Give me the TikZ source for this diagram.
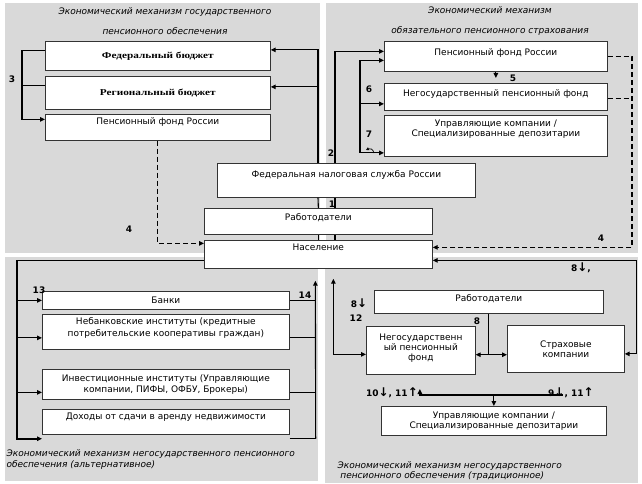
\documentclass[tikz,border=0pt]{standalone}
\usepackage{fontspec}
\setmainfont{DejaVu Sans}
\newfontfamily\budgetfont{Liberation Serif}[FakeStretch=1.25]
\usetikzlibrary{arrows.meta}
\definecolor{panelgray}{RGB}{217,217,217}
\newcommand\dnarr{{\fontsize{12}{9}\selectfont↓}}
\newcommand\uparr{{\fontsize{12}{9}\selectfont↑}}

\begin{document}
\begin{tikzpicture}[
  x=1pt, y=-1pt,
  font=\fontsize{9}{10.5}\selectfont,
  box/.style={draw=black!80, fill=white, line width=.7pt, align=center,
    inner sep=1pt, anchor=north west},
  raised/.style={text depth=#1},
  tight/.style={font=\fontsize{9}{9.8}\selectfont},
  loose/.style={font=\fontsize{9}{11.7}\selectfont},
  budget/.style={font=\budgetfont\bfseries\fontsize{9}{11}\selectfont},
  title/.style={font=\fontsize{9}{11}\selectfont\itshape},
  num/.style={font=\fontsize{9}{9}\selectfont\bfseries, inner sep=0pt},
  plain/.style={line width=1.1pt},
  link/.style={plain, -{Triangle[length=5pt,width=4.5pt]}},
  dlink/.style={plain, {Triangle[length=5pt,width=4.5pt]}-{Triangle[length=5pt,width=4.5pt]}},
  dash link/.style={link, dash pattern=on 5pt off 3pt},
]
\useasboundingbox (0,0) rectangle (642,484);

% panels
\fill[panelgray] (5,3) rectangle (320,253);
\fill[panelgray] (326,3) rectangle (638,253);
\fill[panelgray] (5,257) rectangle (318,481);
\fill[panelgray] (325,257) rectangle (638,483);

\node[title, align=center] (ttlstate) at (165,21)
  {Экономический механизм государственного\\[9pt]пенсионного обеспечения};
\node[title, align=center] (ttlmand) at (490,21)
  {Экономический механизм\\[9pt]обязательного пенсионного страхования};
\node[title, align=left, anchor=west] (ttlalt) at (3,460)
  {Экономический механизм негосударственного пенсионного\\обеспечения (альтернативное)};
\node[title, font=\fontsize{9}{8.8}\selectfont\itshape, align=left, anchor=west] (ttltrad) at (334,471)
  {Экономический механизм негосударственного\\\ пенсионного обеспечения (традиционное)};

% state pension
\node[box, budget, minimum width=225, minimum height=29] (fed) at (45,41) {Федеральный бюджет};
\node[box, budget, minimum width=225, minimum height=33] (reg) at (45,76) {Региональный бюджет};
\node[box, raised=12pt, minimum width=225, minimum height=26] (pfr1) at (45,114) {Пенсионный фонд России};

% mandatory insurance
\node[box, raised=8pt, minimum width=223, minimum height=30] (pfr2) at (384,41) {Пенсионный фонд России};
\node[box, raised=7pt, minimum width=223, minimum height=27] (npf2) at (384,83) {Негосударственный пенсионный фонд};
\node[box, tight, raised=16pt, minimum width=223, minimum height=41] (uk2) at (384,115)
  {Управляющие компании /\\Специализированные депозитарии};

% centre
\node[box, raised=12pt, minimum width=258, minimum height=34] (fns) at (217,163) {Федеральная налоговая служба России};
\node[box, raised=9pt, minimum width=228, minimum height=26] (emp1) at (204,208) {Работодатели};
\node[box, raised=14pt, minimum width=228, minimum height=28] (pop) at (204,240) {Население};

% alternative
\node[box, minimum width=247, minimum height=18] (banks) at (42,291) {Банки};
\node[box, loose, raised=10pt, minimum width=247, minimum height=35] (nonbank) at (42,314)
  {Небанковские институты (кредитные\\потребительские кооперативы граждан)};
\node[box, minimum width=247, minimum height=30] (invest) at (42,369)
  {Инвестиционные институты (Управляющие\\компании, ПИФЫ, ОФБУ, Брокеры)};
\node[box, raised=12pt, minimum width=247, minimum height=25] (income) at (42,409)
  {Доходы от сдачи в аренду недвижимости};

% traditional
\node[box, raised=7pt, minimum width=229, minimum height=23] (emp2) at (374,290) {Работодатели};
\node[box, tight, raised=6pt, minimum width=109, minimum height=48] (npf3) at (366,326)
  {Негосударственн\\ый пенсионный\\фонд};
\node[box, tight, minimum width=117, minimum height=47] (ins) at (507,325) {Страховые\\компании};
\node[box, tight, minimum width=225, minimum height=29] (uk3) at (381,406)
  {Управляющие компании /\\Специализированные депозитарии};

\coordinate (up1) at (318,0);
\coordinate (up2) at (335,0);
\coordinate (dashE) at (632,0);

% 3
\draw[link] ([yshift=5pt]fed.west) -- ++(-23,0) |- ([yshift=8pt]pfr1.west);
\draw[plain] ([yshift=7pt]reg.west) -- ++(-23,0);

% population -> budgets
\draw[plain] (pop.north) -- (emp1.south);
\draw[plain] (emp1.north) -- (up1 |- fns.south);
\draw[link] (up1 |- fns.north) |- ([yshift=6pt]fed.east);
\draw[link] ([xshift=48pt,yshift=6pt]reg.east) -- ([yshift=6pt]reg.east);

% 2
\draw[plain] (up2 |- pop.north) -- (up2 |- emp1.south);
\draw[plain] (up2 |- emp1.north) -- (up2 |- fns.south);
\draw[link] (up2 |- fns.north) |- ([yshift=5pt]pfr2.west);

% 6, 7
\draw[dlink] ([yshift=-4pt]pfr2.west) -- ++(-24,0) |- ([yshift=-17pt]uk2.west);
\draw[link] ([xshift=-24pt,yshift=-7pt]npf2.west) -- ([yshift=-7pt]npf2.west);
\draw[line width=.7pt, -{Triangle[length=3pt,width=3pt]}] (374,153) .. controls (373,149) and (370,148) .. (366,150);

% 5
\draw[link, shorten >=5pt] (pfr2.south) -- (npf2.north);

% 4
\coordinate (popE) at ([yshift=7pt]pop.east);
\draw[dash link] (pfr2.east) -| (dashE |- popE) -- (popE);
\draw[plain, dash pattern=on 5pt off 3pt] ([yshift=-2pt]npf2.east) -- ++(25,0);
\draw[dash link] (pfr1.south) |- ([yshift=11pt]pop.west);

% traditional
\draw[dlink] ([yshift=-6pt]pop.east) -- ++(204,0) |- ([yshift=-5pt]ins.east);
\draw[plain] (emp2.south) -- ++(0,41) coordinate (split);
\draw[link] (split) -- (split -| npf3.east);
\draw[link] (split) -- (split -| ins.west);
\draw[dlink] ([yshift=-4pt]npf3.west) -| ([xshift=15pt,yshift=-10pt]pop.south);
\draw[link] ([yshift=11pt]uk3.north) -- (uk3.north);
\draw[link] ([yshift=11pt]uk3.north) -- ++(-74,0) -- ++(0,-6);
\draw[plain] ([yshift=11pt]uk3.north) -- ++(69,0);

% alternative
\draw[link, line width=1.7pt] ([yshift=-6pt]pop.west) -| ([xshift=-25pt,yshift=-4pt]income.south west)
  -- ([yshift=-4pt]income.south west);
\draw[link] ([xshift=-25pt]banks.west) -- (banks.west);
\draw[link] ([xshift=-25pt,yshift=-6pt]nonbank.west) -- ([yshift=-6pt]nonbank.west);
\draw[link] ([xshift=-25pt,yshift=-8pt]invest.west) -- ([yshift=-8pt]invest.west);
\draw[link] ([xshift=26pt,yshift=-4pt]income.south east) -- ([xshift=-3pt,yshift=-12pt]pop.south);
\draw[plain] (banks.east) -- ++(26,0);
\draw[plain] ([yshift=-6pt]nonbank.east) -- ++(26,0);
\draw[plain] ([yshift=-8pt]invest.east) -- ++(26,0);
\draw[plain] ([yshift=-4pt]income.south east) -- ++(26,0);

% numbers
\node[num] (n3) at (12,79) {3};
\node[num] (n2) at (331,153) {2};
\node[num] (n1) at (332,204) {1};
\node[num] (n4a) at (129,229) {4};
\node[num] (n4b) at (601,238) {4};
\node[num] (n5) at (513,78) {5};
\node[num] (n6) at (369,89) {6};
\node[num] (n7) at (369,134) {7};
\node[num] (n8a) at (581,268) {8\dnarr,};
\node[num] (n8b) at (359,303) {8\dnarr};
\node[num] (n12) at (356,318) {12};
\node[num] (n8c) at (477,321) {8};
\node[num, anchor=east] (n10) at (418,393) {10\dnarr, 11\uparr};
\node[num, anchor=west] (n9) at (548,393) {9\dnarr, 11\uparr};
\node[num] (n13) at (39,290) {13};
\node[num] (n14) at (305,295) {14};
\end{tikzpicture}
\end{document}
